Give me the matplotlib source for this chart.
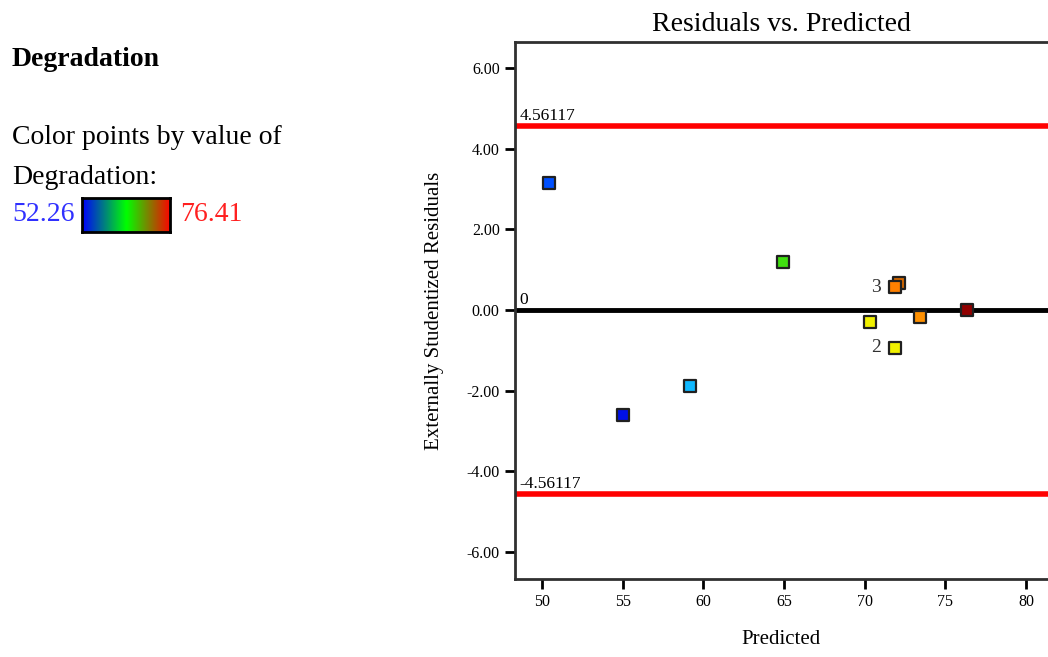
import numpy as np
import matplotlib.pyplot as plt
from matplotlib.colors import LinearSegmentedColormap

plt.rcParams['font.family'] = ['Liberation Serif', 'DejaVu Serif']

# Data
predicted = [50.43, 55.02, 59.18, 64.94, 70.33, 71.88, 72.13, 71.88, 73.43, 76.35]
residuals = [3.15, -2.60, -1.89, 1.19, -0.30, -0.94, 0.67, 0.57, -0.17, 0.00]
point_colors = ['#0050ff', '#0010e8', '#10b8ff', '#40e010', '#f0f000',
                '#f0f000', '#d86a00', '#ff8000', '#ff9000', '#900000']
point_labels = {5: '2', 7: '3'}
limit = 4.56117
deg_min, deg_max = 52.26, 76.41
x_ticks = [50, 55, 60, 65, 70, 75, 80]
y_ticks = [-6, -4, -2, 0, 2, 4, 6]

fig = plt.figure(figsize=(10.48, 6.57), dpi=100)

# left legend panel
fig.text(12/1048, 1 - 60/657, 'Degradation', fontsize=20, fontweight='bold', va='center')
fig.text(12/1048, 1 - 137/657, 'Color points by value of', fontsize=20, va='center')
fig.text(12/1048, 1 - 177/657, 'Degradation:', fontsize=20, va='center')
fig.text(12/1048, 1 - 215/657, f'{deg_min:.2f}', fontsize=20, va='center', color='#3030ff')
fig.text(180/1048, 1 - 215/657, f'{deg_max:.2f}', fontsize=20, va='center', color='#ff2020')

cmap = LinearSegmentedColormap.from_list('deg', ['#0000ff', '#00ff00', '#ff0000'])
cax = fig.add_axes([82/1048, 1 - 232/657, 88/1048, 34/657])
cax.imshow(np.linspace(0, 1, 256)[None, :], aspect='auto', cmap=cmap)
cax.set_xticks([])
cax.set_yticks([])
for s in cax.spines.values():
    s.set_linewidth(2)

# main plot
ax = fig.add_axes([515/1048, 1 - 579/657, 1 - 515/1048, (579 - 42)/657])
ax.axhline(limit, color='#ff0000', lw=4, zorder=1)
ax.axhline(-limit, color='#ff0000', lw=4, zorder=1)
ax.axhline(0, color='black', lw=3.5, zorder=1)

ax.scatter(predicted, residuals, c=point_colors, marker='s', s=70,
           edgecolors='#202020', linewidths=1.6, zorder=3)
for i, lab in point_labels.items():
    ax.annotate(lab, (predicted[i], residuals[i]), xytext=(-10, 0),
                textcoords='offset points', ha='right', va='center', fontsize=14, color='#303030')

ax.text(48.6, limit + 0.06, f'{limit:.5f}', fontsize=12.5, va='bottom')
ax.text(48.6, 0.06, '0', fontsize=12.5, va='bottom')
ax.text(48.6, -limit + 0.06, f'{-limit:.5f}', fontsize=12.5, va='bottom')

ax.set_xlim(48.33, 81.36)
ax.set_ylim(-6.67, 6.65)
ax.set_xticks(x_ticks)
ax.set_yticks(y_ticks)
ax.set_yticklabels([f'{v:.2f}' for v in y_ticks])
ax.tick_params(direction='out', length=7, width=2, labelsize=11.5, pad=4)
ax.spines['right'].set_visible(False)
for s in ['left', 'bottom', 'top']:
    ax.spines[s].set_linewidth(2)
    ax.spines[s].set_color('#303030')

ax.set_title('Residuals vs. Predicted', fontsize=20, pad=8)
ax.set_xlabel('Predicted', fontsize=15, labelpad=14)
ax.set_ylabel('Externally Studentized Residuals', fontsize=15, labelpad=16)

fig.savefig('out.png', dpi=100)
